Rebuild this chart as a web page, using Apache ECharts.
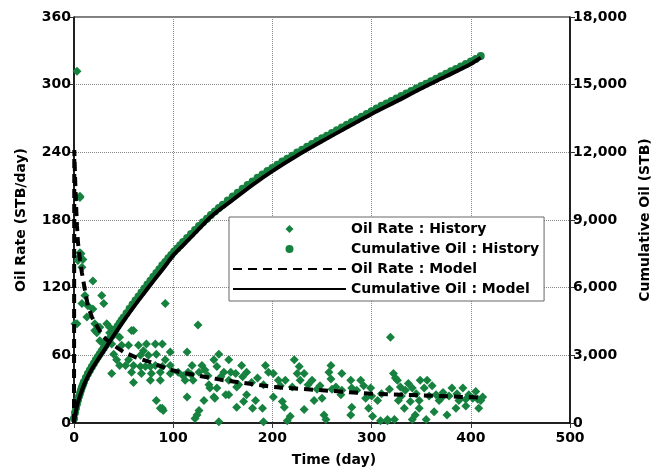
<!DOCTYPE html>
<html>
<head>
    <meta charset="utf-8">
    <title>Oil Rate / Cumulative Oil</title>
    <script src="https://cdn.jsdelivr.net/npm/echarts@6/dist/echarts.min.js"></script>
    <style>
        body { margin: 0; background: #fff; }
    </style>
</head>
<body>

<div id="main" style="width: 668px;height:476px;"></div>

<script type="text/javascript">

    // axes
    var xTicks = [0, 100, 200, 300, 400, 500];
    var rateTicks = [0, 60, 120, 180, 240, 300, 360];
    var cumTicks = [0, 3000, 6000, 9000, 12000, 15000, 18000];

    // oil rate history  [day, STB/day]
    var rateHistory = [
        [1, 88], [3, 312], [6, 201], [6, 200], [4, 144], [9, 145], [8, 138], [5, 147], [7, 150], [6, 151],
        [8, 106], [3, 88], [19, 126], [11, 113], [28, 113], [14, 104], [19, 101], [30, 106], [13, 94], [21, 88],
        [26, 85], [33, 88], [36, 85], [21, 82], [23, 80], [43, 85], [58, 82], [60, 82], [92, 106], [36, 80],
        [41, 79], [26, 73], [30, 70], [38, 70], [46, 76], [48, 69], [55, 69], [65, 69], [73, 70], [82, 70],
        [89, 70], [70, 64], [67, 60], [75, 60], [83, 61], [97, 63], [92, 56], [40, 61], [43, 56], [52, 51],
        [46, 51], [55, 56], [60, 51], [67, 50], [72, 50], [77, 50], [82, 51], [89, 50], [97, 51], [38, 44],
        [58, 45], [68, 44], [78, 44], [87, 45], [97, 44], [60, 36], [77, 38], [87, 38], [83, 20], [89, 13],
        [90, 11], [87, 13],
        [125, 87], [114, 63], [146, 61], [141, 56], [156, 56], [119, 51], [129, 51], [144, 50], [169, 51], [193, 51],
        [105, 45], [115, 45], [126, 45], [132, 47], [151, 45], [158, 45], [163, 44], [174, 45], [196, 45], [201, 44],
        [112, 38], [120, 38], [136, 34], [156, 38], [166, 34], [179, 36], [191, 34], [206, 38], [137, 31], [144, 31],
        [164, 32], [114, 23], [141, 23], [153, 25], [156, 25], [174, 25], [201, 23], [131, 20], [142, 22], [171, 19],
        [183, 20], [210, 19], [164, 14], [180, 13], [190, 13], [126, 11], [124, 7], [122, 4], [146, 1], [191, 1],
        [110, 42], [118, 43], [148, 41], [185, 40], [170, 41], [135, 42],
        [222, 56], [227, 50], [259, 51], [270, 44], [232, 44], [225, 44], [257, 45], [213, 38], [228, 38], [240, 38],
        [259, 39], [279, 38], [289, 38], [208, 33], [220, 32], [248, 33], [264, 32], [270, 29], [280, 31], [299, 31],
        [269, 25], [294, 22], [250, 22], [242, 20], [306, 20], [212, 14], [232, 12], [280, 14], [297, 13], [279, 7],
        [218, 6], [252, 7], [301, 6], [215, 2], [254, 3], [309, 2], [316, 2],
        [236, 34], [245, 30], [285, 29], [260, 30], [292, 33],
        [319, 76], [322, 44], [326, 38], [329, 32], [334, 29], [341, 31], [349, 38], [356, 38], [353, 31], [361, 33],
        [381, 31], [392, 31], [405, 28], [327, 20], [339, 19], [348, 20], [368, 20], [388, 20], [410, 20], [333, 13],
        [348, 13], [363, 10], [385, 13], [395, 15], [408, 13], [344, 7], [376, 7], [323, 3], [341, 3], [355, 3],
        [316, 3], [365, 25], [372, 27], [378, 24], [398, 25], [402, 22], [386, 26], [345, 26], [358, 24], [370, 22],
        [395, 21], [412, 23], [407, 21], [330, 24], [300, 24], [310, 26], [318, 30], [324, 40], [337, 35]
    ];

    // cumulative oil history  [day, STB]
    var cumHistory = [
        [0, 200], [1, 450], [2, 660], [3, 850], [4, 1020], [5, 1170], [6, 1310], [7, 1450], [8, 1580], [9, 1700],
        [10, 1820], [12, 2010], [14, 2180], [16, 2340], [18, 2490], [20, 2640], [22, 2790], [24, 2930], [26, 3060], [28, 3190],
        [30, 3330], [32, 3460], [34, 3600], [36, 3740], [38, 3870], [40, 4010], [42, 4150], [44, 4290], [46, 4420], [48, 4550],
        [50, 4680], [53, 4870], [56, 5060], [59, 5250], [62, 5430], [65, 5610], [68, 5790], [71, 5960], [74, 6140], [77, 6310],
        [80, 6480], [83, 6650], [86, 6820], [89, 6990], [92, 7140], [95, 7300], [98, 7450], [101, 7600], [104, 7740], [107, 7880],
        [110, 8020], [114, 8200], [118, 8380], [122, 8560], [126, 8730], [130, 8900], [134, 9060], [138, 9220], [142, 9380], [146, 9530],
        [150, 9680], [155, 9860], [160, 10040], [165, 10210], [170, 10380], [175, 10550], [180, 10710], [185, 10870], [190, 11020], [195, 11170],
        [200, 11310], [205, 11450], [210, 11590], [215, 11720], [220, 11850], [225, 11990], [230, 12120], [235, 12250], [240, 12370], [245, 12500],
        [250, 12620], [255, 12740], [260, 12860], [265, 12980], [270, 13100], [275, 13220], [280, 13340], [285, 13460], [290, 13580], [295, 13700],
        [300, 13820], [305, 13940], [310, 14060], [315, 14170], [320, 14280], [325, 14390], [330, 14500], [335, 14610], [340, 14720], [345, 14830],
        [350, 14940], [355, 15040], [360, 15150], [365, 15260], [370, 15370], [375, 15480], [380, 15590], [385, 15700], [390, 15810], [395, 15920],
        [400, 16030], [405, 16140], [410, 16270]
    ];

    // model curves
    var rateModel = [
        [0, 0], [0.3, 242], [1, 220], [2, 195], [3, 175], [4, 160], [6, 145], [8, 133], [11, 118], [14, 104],
        [18, 94], [25, 83], [30, 76], [38, 70], [50, 63], [63, 58], [77, 54], [94, 48], [107, 45], [150, 38],
        [200, 32], [250, 29], [300, 26], [350, 24.5], [412, 22.5]
    ];
    var cumModel = [
        [0, 0], [1, 300], [3, 750], [6, 1200], [10, 1680], [15, 2150], [20, 2530], [30, 3200], [40, 3880], [50, 4530],
        [60, 5140], [70, 5720], [80, 6290], [90, 6850], [100, 7430], [110, 7880], [120, 8330], [140, 9220], [160, 9890], [180, 10560],
        [200, 11170], [225, 11860], [250, 12490], [275, 13100], [300, 13700], [325, 14260], [350, 14830], [375, 15370], [400, 15920], [410, 16200]
    ];

    var green = '#17823f';
    var font = "'DejaVu Sans', Arial, sans-serif";
    var labelStyle = { color: '#000', fontSize: 14, fontWeight: 'bold', fontFamily: font };
    var nameStyle = { color: '#000', fontSize: 14, fontWeight: 'bold', fontFamily: font };

    // legend icons: small marker centred in a wide box so it is not stretched
    var diamondIcon = 'path://M0,0M113,12M56.5,2L60.5,6L56.5,10L52.5,6Z';
    var circleIcon = 'path://M0,0M113,12M56.5,2A4,4,0,1,1,56.5,10A4,4,0,1,1,56.5,2Z';

    var myChart = echarts.init(document.getElementById('main'));

    var option = {
        animation: false,
        textStyle: { fontFamily: font },
        grid: {
            left: 74, right: 98, top: 17, bottom: 53,
            show: true, borderColor: '#000', borderWidth: 1
        },
        legend: {
            orient: 'vertical',
            left: 229, top: 217,
            padding: [5, 5, 5, 3],
            itemGap: 6,
            itemWidth: 113,
            itemHeight: 12,
            backgroundColor: '#fff',
            borderColor: '#666',
            borderWidth: 1,
            borderRadius: 0,
            textStyle: labelStyle,
            data: [
                { name: 'Oil Rate : History', icon: diamondIcon },
                { name: 'Cumulative Oil : History', icon: circleIcon },
                { name: 'Oil Rate : Model', itemStyle: { opacity: 0 } },
                { name: 'Cumulative Oil : Model', itemStyle: { opacity: 0 } }
            ]
        },
        xAxis: {
            type: 'value',
            min: xTicks[0], max: xTicks[xTicks.length - 1], interval: 100,
            name: 'Time (day)', nameLocation: 'middle', nameGap: 30,
            nameTextStyle: Object.assign({ padding: [0, 0, 0, 24] }, nameStyle),
            axisLine: { lineStyle: { color: '#000', width: 1.5 } },
            axisTick: { inside: false, length: 5, lineStyle: { color: '#333' } },
            axisLabel: labelStyle,
            splitLine: { lineStyle: { color: '#888', type: 'dotted' } }
        },
        yAxis: [{
            type: 'value',
            min: rateTicks[0], max: rateTicks[rateTicks.length - 1], interval: 60,
            name: 'Oil Rate (STB/day)', nameLocation: 'middle', nameGap: 46,
            nameTextStyle: nameStyle,
            axisLine: { show: true, lineStyle: { color: '#000', width: 1.5 } },
            axisTick: { show: true, length: 5, lineStyle: { color: '#333' } },
            axisLabel: Object.assign({ margin: 3 }, labelStyle),
            splitLine: { lineStyle: { color: '#888', type: 'dotted' } }
        }, {
            type: 'value',
            position: 'right',
            min: cumTicks[0], max: cumTicks[cumTicks.length - 1], interval: 3000,
            name: 'Cumulative Oil (STB)', nameLocation: 'middle', nameGap: 66,
            nameTextStyle: nameStyle,
            axisLine: { show: true, lineStyle: { color: '#000', width: 1.5 } },
            axisTick: { show: true, length: 5, lineStyle: { color: '#333' } },
            axisLabel: Object.assign({ margin: 3 }, labelStyle),
            splitLine: { show: false }
        }],
        series: [
            {
                name: 'Oil Rate : History',
                type: 'scatter',
                yAxisIndex: 0,
                symbol: 'diamond',
                symbolSize: 9,
                itemStyle: { color: green, opacity: 1 },
                z: 2,
                data: rateHistory
            },
            {
                name: 'Cumulative Oil : History',
                type: 'scatter',
                yAxisIndex: 1,
                symbol: 'circle',
                symbolSize: 8,
                itemStyle: { color: green, opacity: 1 },
                z: 3,
                data: cumHistory
            },
            {
                name: 'Oil Rate : Model',
                type: 'line',
                yAxisIndex: 0,
                symbol: 'none',
                lineStyle: { color: '#000', width: 4, type: [9, 6] },
                itemStyle: { color: '#000' },
                z: 5,
                data: rateModel
            },
            {
                name: 'Cumulative Oil : Model',
                type: 'line',
                yAxisIndex: 1,
                symbol: 'none',
                smooth: 0.3,
                lineStyle: { color: '#000', width: 4 },
                itemStyle: { color: '#000' },
                z: 4,
                data: cumModel
            }
        ]
    };

    myChart.setOption(option);

</script>
</body>
</html>
